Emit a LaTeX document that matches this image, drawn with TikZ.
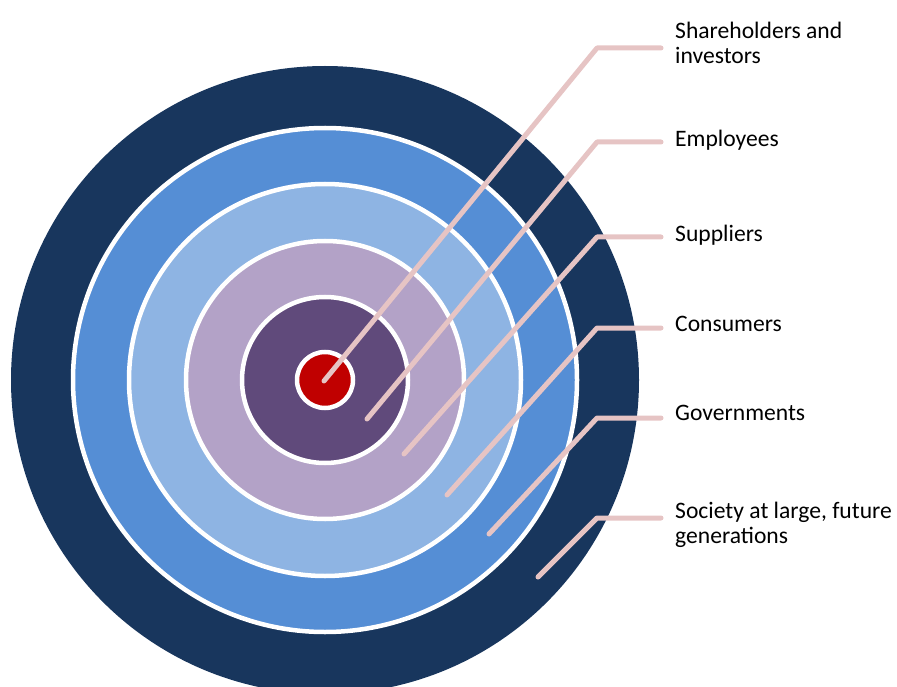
\documentclass[tikz,border=0pt]{standalone}
\usepackage{fontspec}
\setmainfont{Carlito}
\usetikzlibrary{positioning}

\definecolor{navy}{RGB}{24,54,93}
\definecolor{midblue}{RGB}{85,142,213}
\definecolor{paleblue}{RGB}{142,180,227}
\definecolor{lavender}{RGB}{179,162,199}
\definecolor{plum}{RGB}{96,74,123}
\definecolor{core}{RGB}{192,0,0}
\definecolor{leadpink}{RGB}{230,196,196}

\begin{document}
\begin{tikzpicture}[x=1pt, y=-1pt,
  ring/.style={circle, draw=white, line width=4.5pt, inner sep=0pt},
  leader/.style={draw=leadpink, line width=5pt, line cap=round, line join=round},
  stake/.style={anchor=west, inner sep=0pt, align=left, font=\fontsize{23.6}{25.5}\selectfont}]
  \useasboundingbox (0,0) rectangle (897,687);
  \clip (0,0) rectangle (897,687);

  % rings, outside in
  \node[ring, draw=none, fill=navy, minimum size=628pt] (society) at (325,380) {};
  \node[ring, fill=midblue,  minimum size=504pt] (gov)  at (325,380) {};
  \node[ring, fill=paleblue, minimum size=392pt] (cons) at (325,380) {};
  \node[ring, fill=lavender, minimum size=278pt] (supp) at (325,380) {};
  \node[ring, fill=plum,     minimum size=166pt] (empl) at (325,380) {};
  \node[ring, fill=core,     minimum size=56pt]  (share) at (325,380) {};

  % leaders and labels
  \foreach \sx/\sy/\cy/\ty/\name/\txt in {
      324/381/48/43/lshare/{Shareholders and\\investors},
      367/419/142/140/lempl/{Employees},
      404/454/237/235/lsupp/{Suppliers},
      447/495/328/324/lcons/{Consumers},
      489/534/418/413/lgov/{Governments},
      538/577/518/525/lsoc/{Society at large, future\\generations}}{
    \coordinate (\name-start) at (\sx,\sy);
    \coordinate (\name-bend) at (597,\cy);
    \coordinate (\name-end) at (661,\cy);
    \node[stake] (\name) at (675,\ty) {\txt};
    \draw[leader] (\name-start) -- (\name-bend) -- (\name-end);
  }
\end{tikzpicture}
\end{document}
